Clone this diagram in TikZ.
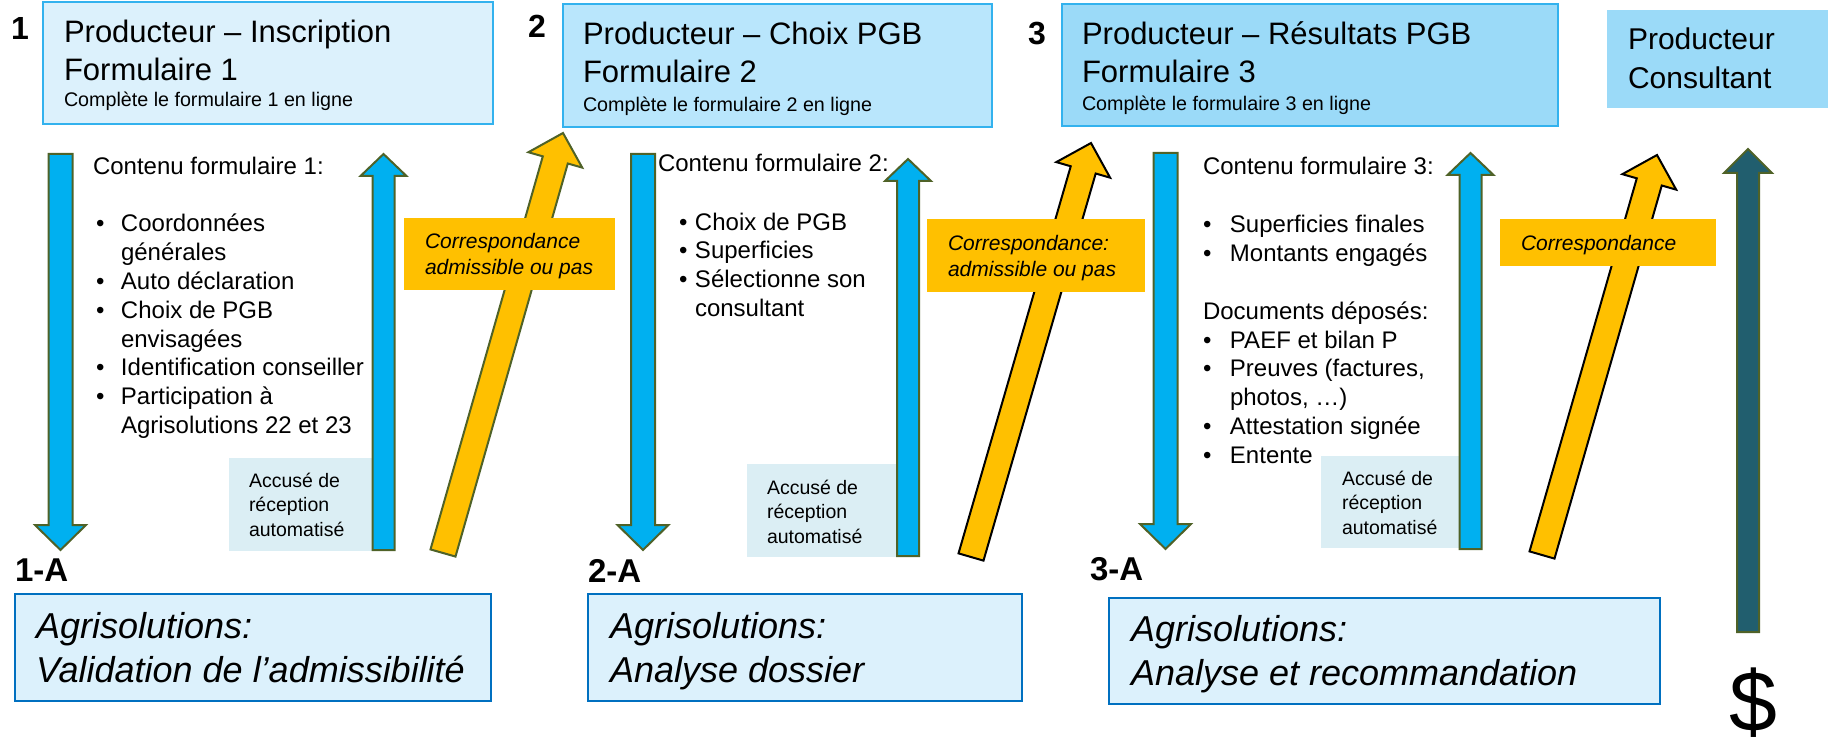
\documentclass[tikz,border=0pt]{standalone}
\usepackage{fontspec}
\setmainfont{Liberation Sans}
\usetikzlibrary{calc,positioning}

\definecolor{boxA}{HTML}{DCF1FC}
\definecolor{boxB}{HTML}{B9E6FC}
\definecolor{boxC}{HTML}{9BDAF8}
\definecolor{boxline}{HTML}{33B2EE}
\definecolor{agriline}{HTML}{0070C0}
\definecolor{recufond}{HTML}{DBEEF4}
\definecolor{flux}{HTML}{00B0F0}
\definecolor{vertfonce}{HTML}{4F6228}
\definecolor{jaune}{HTML}{FFC000}
\definecolor{sarcelle}{HTML}{215E6E}

\tikzset{
  line join=miter,
}

\newcommand{\blockarrow}[6]{%
  \coordinate (ba) at ($(#3)!#6!(#2)$);
  \draw[#1] ($(#2)!#4!90:(#3)$) -- ($(ba)!#4!90:(#3)$) -- ($(ba)!#5!90:(#3)$)
    -- (#3) -- ($(ba)!#5!-90:(#3)$) -- ($(ba)!#4!-90:(#3)$)
    -- ($(#2)!#4!-90:(#3)$) -- cycle;
}
\newcommand{\puce}[1]{\hangindent=#1\hangafter=1\noindent\makebox[#1][l]{•}}

\begin{document}
\begin{tikzpicture}[x=1pt, y=-1pt,
  every node/.style={inner sep=0pt, outer sep=0pt},
  txt/.style={anchor=base west, text width=600pt, align=flush left},
  titre/.style={txt, font={\fontsize{31}{38}\selectfont}},
  num/.style={txt, font={\fontsize{32}{38}\selectfont\bfseries}},
  corps/.style={txt, font={\fontsize{24}{28.8}\selectfont}},
  petit/.style={txt, font={\fontsize{19.5}{24.5}\selectfont}},
  note/.style={txt, font={\fontsize{21}{26}\selectfont\itshape}},
  grand/.style={txt, font={\fontsize{36}{44}\selectfont\itshape}},
  cadre/.style={anchor=north west, draw=boxline, line width=2pt},
  agri/.style={anchor=north west, draw=agriline, line width=2pt, fill=boxA},
  recubox/.style={anchor=north west, fill=recufond},
  etiq/.style={anchor=north west, fill=jaune},
  bleu/.style={draw=vertfonce, line width=2pt, fill=flux},
  sombre/.style={draw=vertfonce, line width=2pt, fill=sarcelle},
  jaunevert/.style={draw=vertfonce, line width=2pt, fill=jaune},
  jaunenoir/.style={draw=black, line width=2pt, fill=jaune},
]
\useasboundingbox (0,0) rectangle (1828,738);

\node[cadre, fill=boxA, minimum width=450pt, minimum height=122pt] (f1) at (43,2) {};
\node[cadre, fill=boxB, minimum width=429pt, minimum height=123pt] (f2) at (563,4) {};
\node[cadre, fill=boxC, minimum width=496pt, minimum height=122pt] (f3) at (1062,4) {};
\node[anchor=north west, fill=boxC, minimum width=221pt, minimum height=98pt] (f4) at (1607,10) {};

\node[num] (n1) at (11,40) {1};
\node[num] (n2) at (528,38) {2};
\node[num] (n3) at (1028,45) {3};

\node[titre] (f1t) at (64,43) {Producteur – Inscription\\Formulaire 1\par
  {\fontsize{19.7}{26}\selectfont Complète le formulaire 1 en ligne\par}};
\node[titre] (f2t) at (583,45) {Producteur – Choix PGB\\Formulaire 2\par
  {\fontsize{19.7}{29}\selectfont Complète le formulaire 2 en ligne\par}};
\node[titre] (f3t) at (1082,45) {Producteur – Résultats PGB\\Formulaire 3\par
  {\fontsize{19.7}{28}\selectfont Complète le formulaire 3 en ligne\par}};
\node[titre, font={\fontsize{30}{39}\selectfont}] (f4t) at (1628,50) {Producteur\\Consultant};

\node[corps] (c1) at (93,175) {Contenu formulaire 1:};
\node[corps] (l1) at (96,232) {\puce{25pt}Coordonnées\newline générales\par
  \puce{25pt}Auto déclaration\par
  \puce{25pt}Choix de PGB\newline envisagées\par
  \puce{25pt}Identification conseiller\par
  \puce{25pt}Participation à\newline Agrisolutions 22 et 23\par};
\node[corps] (c2) at (658,172) {Contenu formulaire 2:};
\node[corps] (l2) at (679,230) {\puce{16pt}Choix de PGB\par
  \puce{16pt}Superficies\par
  \puce{16pt}Sélectionne son\newline consultant\par};
\node[corps] (c3) at (1203,175) {Contenu formulaire 3:};
\node[corps] (l3a) at (1203,233) {\puce{27pt}Superficies finales\par
  \puce{27pt}Montants engagés\par};
\node[corps] (d3) at (1203,319) {Documents déposés:};
\node[corps] (l3b) at (1203,348) {\puce{27pt}PAEF et bilan P\par
  \puce{27pt}Preuves (factures,\newline photos, …)\par
  \puce{27pt}Attestation signée\par
  \puce{27pt}Entente\par};

\node[recubox, minimum width=144pt, minimum height=93pt] (r1) at (229,458) {};
\node[recubox, minimum width=150pt, minimum height=93pt] (r2) at (747,464) {};
\node[recubox, minimum width=140pt, minimum height=92pt] (r3) at (1321,456) {};
\node[petit] (r1t) at (249,487) {Accusé de\\réception\\automatisé};
\node[petit] (r2t) at (767,494) {Accusé de\\réception\\automatisé};
\node[petit] (r3t) at (1342,485) {Accusé de\\réception\\automatisé};

\coordinate (d1s) at (60.5,154);  \coordinate (d1e) at (60.5,550);
\coordinate (u1s) at (383.5,550); \coordinate (u1e) at (383.5,154);
\coordinate (d2s) at (643,154);   \coordinate (d2e) at (643,550);
\coordinate (u2s) at (908,556);   \coordinate (u2e) at (908,159);
\coordinate (d3s) at (1165.5,153); \coordinate (d3e) at (1165.5,549);
\coordinate (u3s) at (1470.5,549); \coordinate (u3e) at (1470.5,153);
\coordinate (ps) at (1748,632);   \coordinate (pe) at (1748,149);
\coordinate (g1s) at (443,553);   \coordinate (g1e) at (563,133);
\coordinate (g2s) at (971,557);   \coordinate (g2e) at (1091,143);
\coordinate (g3s) at (1542,555);  \coordinate (g3e) at (1657,155);

\blockarrow{bleu}{d1s}{d1e}{12pt}{25.5pt}{25pt}
\blockarrow{bleu}{d2s}{d2e}{12pt}{25.5pt}{25pt}
\blockarrow{bleu}{d3s}{d3e}{12pt}{25.5pt}{25pt}
\blockarrow{bleu}{u1s}{u1e}{11pt}{23pt}{22pt}
\blockarrow{bleu}{u2s}{u2e}{11pt}{23pt}{22pt}
\blockarrow{bleu}{u3s}{u3e}{11pt}{23pt}{22pt}
\blockarrow{sombre}{ps}{pe}{11pt}{24pt}{24pt}
\blockarrow{jaunevert}{g1s}{g1e}{13pt}{28pt}{28pt}
\blockarrow{jaunenoir}{g2s}{g2e}{13pt}{28pt}{28pt}
\blockarrow{jaunenoir}{g3s}{g3e}{13pt}{28pt}{28pt}

\node[etiq, minimum width=211pt, minimum height=72pt] (y1) at (404,218) {};
\node[etiq, minimum width=218pt, minimum height=73pt] (y2) at (927,219) {};
\node[etiq, minimum width=216pt, minimum height=47pt] (y3) at (1500,219) {};
\node[note] (y1t) at (425,248) {Correspondance\\admissible ou pas};
\node[note] (y2t) at (948,250) {Correspondance:\\admissible ou pas};
\node[note] (y3t) at (1521,251) {Correspondance};

\node[num, font={\fontsize{33}{38}\selectfont\bfseries}] (s1) at (15,581) {1-A};
\node[num, font={\fontsize{33}{38}\selectfont\bfseries}] (s2) at (588,582) {2-A};
\node[num, font={\fontsize{33}{38}\selectfont\bfseries}] (s3) at (1090,580) {3-A};

\node[agri, minimum width=476pt, minimum height=107pt] (a1) at (15,594) {};
\node[agri, minimum width=434pt, minimum height=107pt] (a2) at (588,594) {};
\node[agri, minimum width=551pt, minimum height=106pt] (a3) at (1109,598) {};
\node[grand] (a1t) at (36,638) {Agrisolutions:\\Validation de l’admissibilité};
\node[grand] (a2t) at (610,638) {Agrisolutions:\\Analyse dossier};
\node[grand] (a3t) at (1131,641) {Agrisolutions:\\Analyse et recommandation};

\node[txt, font={\fontsize{86}{90}\selectfont}] (dollar) at (1729,731) {\$};
\end{tikzpicture}
\end{document}
